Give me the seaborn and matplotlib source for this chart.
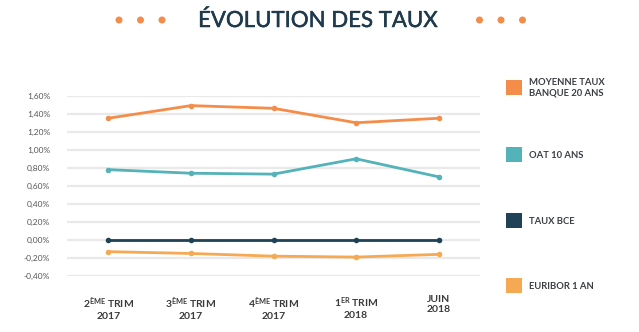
import matplotlib
matplotlib.use("Agg")
import matplotlib.pyplot as plt
from matplotlib.patches import Rectangle, Ellipse
import matplotlib.patheffects as pe
import seaborn as sns
import pandas as pd

# ---- data ----
periods = ["2T2017", "3T2017", "4T2017", "1T2018", "JUIN2018"]
period_labels = [
    "2$^{\\mathrm{ÈME}}$ TRIM\n2017",
    "3$^{\\mathrm{ÈME}}$ TRIM\n2017",
    "4$^{\\mathrm{ÈME}}$ TRIM\n2017",
    "1$^{\\mathrm{ER}}$ TRIM\n2018",
    "JUIN\n2018",
]
series_names = ["MOYENNE TAUX\nBANQUE 20 ANS", "OAT 10 ANS", "TAUX BCE", "EURIBOR 1 AN"]
moyenne_banque = [1.35, 1.49, 1.46, 1.30, 1.35]
oat_10 = [0.78, 0.74, 0.73, 0.90, 0.70]
taux_bce = [0.00, 0.00, 0.00, 0.00, 0.00]
euribor_1an = [-0.13, -0.15, -0.18, -0.19, -0.16]
y_ticks = [-0.4, -0.2, 0.0, 0.2, 0.4, 0.6, 0.8, 1.0, 1.2, 1.4, 1.6]
colors = ["#F48C4A", "#54B2B9", "#1F4257", "#F6A953"]
title = "ÉVOLUTION DES TAUX"

sns.set_theme(style="white")
plt.rcParams["font.family"] = ["Lato", "DejaVu Sans"]
plt.rcParams["mathtext.fontset"] = "custom"
plt.rcParams["mathtext.rm"] = "Lato:bold"
plt.rcParams["mathtext.it"] = "Lato"
plt.rcParams["mathtext.bf"] = "Lato:bold"

values = [moyenne_banque, oat_10, taux_bce, euribor_1an]
rows = []
for name, vals in zip(series_names, values):
    for i, (p, v) in enumerate(zip(periods, vals)):
        rows.append({"idx": i, "period": p, "serie": name, "taux": v})
df = pd.DataFrame(rows)

fig = plt.figure(figsize=(6.39, 3.32), dpi=100)
ax = fig.add_axes([67 / 639, 1 - 276 / 332, (480 - 67) / 639, (276 - 95.7) / 332])

for y in y_ticks:
    ax.axhline(y, color="#e9e9e9", lw=1.6, zorder=0)

sns.lineplot(data=df, x="idx", y="taux", hue="serie", hue_order=series_names,
             palette=colors, marker="o", markersize=4, markeredgewidth=0,
             linewidth=2, ax=ax, legend=False, zorder=3)

ax.set_xlim(-0.5, 4.5)
ax.set_ylim(-0.4, 1.6)
ax.set_xticks(range(len(periods)))
ax.set_xticklabels(period_labels, fontsize=7.5, fontweight="bold", color="#3a3a3a",
                   linespacing=1.15)
ax.set_yticks(y_ticks)
ax.set_yticklabels([f"{v:.2f}%".replace(".", ",") if v != 0 else "0,00%" for v in y_ticks],
                   fontsize=6, color="#555555")
ax.tick_params(axis="y", length=0, pad=12)
ax.tick_params(axis="x", length=0, pad=14)
ax.set_xlabel("")
ax.set_ylabel("")
for s in ax.spines.values():
    s.set_visible(False)
ax.grid(False)

# title
fig.text(318 / 639, 1 - 21 / 332, title, ha="center", va="center", fontsize=16,
         color="#1E3A4C",
         path_effects=[pe.withStroke(linewidth=0.35, foreground="#1E3A4C")])
for x in [119, 140.5, 162, 479.5, 501, 522.5]:
    fig.patches.append(Ellipse((x / 639, 1 - 20 / 332), 7 / 639, 7 / 332,
                               transform=fig.transFigure,
                               facecolor="#F48C4A", edgecolor="none"))

# legend
centers = [87, 154, 220, 285.5]
for name, c, yc in zip(series_names, colors, centers):
    fig.patches.append(Rectangle((506 / 639, 1 - (yc + 7.5) / 332), 15.5 / 639, 15 / 332,
                                 transform=fig.transFigure, facecolor=c, edgecolor="none"))
    fig.text(529 / 639, 1 - (yc + 1) / 332, name, ha="left", va="center", fontsize=6.8,
             color="#3a3f44", fontweight="bold", linespacing=1.25)

fig.savefig("out.png", dpi=100, facecolor="white")
